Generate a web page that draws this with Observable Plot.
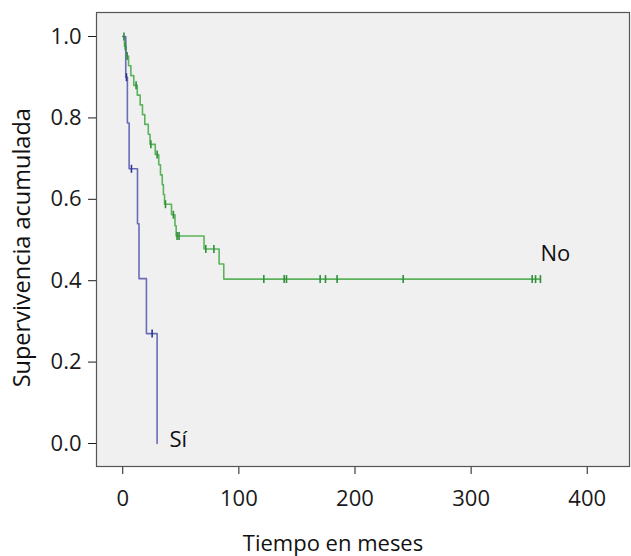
<!DOCTYPE html>
<html>
<head>
<meta charset="utf-8">
<script src="https://cdn.jsdelivr.net/npm/d3@7"></script>
<script src="https://cdn.jsdelivr.net/npm/@observablehq/plot@0.6"></script>
<style>
  html, body { margin: 0; padding: 0; background: #ffffff; }
  #chart { width: 631px; height: 556px; }
</style>
</head>
<body>
<div id="chart"></div>
<script>
// Series "Sí" (blue): step times and survival after each step
const siTimes = [0, 2.6, 4, 5.5, 12.7, 14, 20.4, 29.6];
const siSurv  = [1.0, 0.9, 0.7875, 0.675, 0.54, 0.405, 0.27, 0.0];
const siCensorTimes = [3.2, 7.5, 25.3];
const siCensorSurv  = [0.9, 0.675, 0.27];

// Series "No" (green)
const noTimes = [0, 1.5, 3, 5, 7, 9.5, 12.5, 15, 17, 19, 22, 23.5, 28, 31, 32.5, 34, 35, 36, 42, 45, 46, 70, 83, 87, 359.7];
const noSurv  = [1.0, 0.976, 0.952, 0.928, 0.904, 0.88, 0.856, 0.832, 0.808, 0.784, 0.76, 0.735, 0.71, 0.685, 0.66, 0.636, 0.612, 0.588, 0.562, 0.535, 0.51, 0.478, 0.441, 0.404, 0.404];
const noCensorTimes = [1, 2.2, 3.8, 11.5, 24.2, 29.6, 36.8, 43.6, 46.8, 48.5, 71.5, 78.5, 121.5, 139, 141, 170, 174.6, 184.6, 241.5, 352.6, 355.5, 359.7];
const noCensorSurv  = [1.0, 0.976, 0.952, 0.88, 0.735, 0.71, 0.588, 0.562, 0.51, 0.51, 0.478, 0.478, 0.404, 0.404, 0.404, 0.404, 0.404, 0.404, 0.404, 0.404, 0.404, 0.404];

const xTicks = [0, 100, 200, 300, 400];
const yTicks = [0, 0.2, 0.4, 0.6, 0.8, 1.0];
const xTitle = "Tiempo en meses";
const yTitle = "Supervivencia acumulada";
const groupLabels = ["Sí", "No"];
const labelTimes = [40.2, 359.8];
const labelSurv = [-0.008, 0.449];

const siLine = siTimes.map((t, i) => ({t, s: siSurv[i]}));
const noLine = noTimes.map((t, i) => ({t, s: noSurv[i]}));
const siCens = siCensorTimes.map((t, i) => ({t, s: siCensorSurv[i]}));
const noCens = noCensorTimes.map((t, i) => ({t, s: noCensorSurv[i]}));
const labels = groupLabels.map((g, i) => ({g, t: labelTimes[i], s: labelSurv[i]}));

const vbar = {
  draw(context, size) {
    const r = Math.sqrt(size / Math.PI);
    context.moveTo(0, -r);
    context.lineTo(0, r);
  }
};

const chart = Plot.plot({
  width: 631,
  height: 556,
  marginLeft: 96,
  marginRight: 2,
  marginTop: 12,
  marginBottom: 90,
  style: {fontFamily: "'Open Sans', sans-serif", fontSize: "22px", color: "#1a1a1a", background: "#ffffff"},
  x: {domain: [-22.6, 436.4], label: null},
  y: {domain: [-0.0565, 1.059], label: null},
  marks: [
    Plot.frame({fill: "#f0f0f0", stroke: null}),
    Plot.axisX({ticks: xTicks, tickSize: 8, tickPadding: 16, label: null, fontSize: 22}),
    Plot.axisY({ticks: yTicks, tickSize: 8, tickPadding: 7, tickFormat: d3.format(".1f"), label: null, fontSize: 22}),
    Plot.line(noLine, {x: "t", y: "s", curve: "step-after", stroke: "#5cb35c", strokeWidth: 1.6}),
    Plot.line(siLine, {x: "t", y: "s", curve: "step-after", stroke: "#6a6cb8", strokeWidth: 1.6}),
    Plot.dot(noCens, {x: "t", y: "s", symbol: vbar, r: 4, stroke: "#2f8f3a", strokeWidth: 1.6}),
    Plot.dot(siCens, {x: "t", y: "s", symbol: vbar, r: 4, stroke: "#2c3590", strokeWidth: 1.6}),
    Plot.text(labels, {x: "t", y: "s", text: "g", textAnchor: "start", lineAnchor: "bottom", fontSize: 22, fill: "#111"}),
    Plot.text([xTitle], {frameAnchor: "bottom", text: d => d, dx: -30, dy: 77, lineAnchor: "middle", fontSize: 22, fill: "#111"}),
    Plot.text([yTitle], {x: -86, y: 0.481, text: d => d, rotate: -90, lineAnchor: "middle", fontSize: 23.5, fill: "#111", clip: false}),
    Plot.frame({stroke: "#555", strokeWidth: 1.2})
  ]
});

document.getElementById("chart").appendChild(chart);
</script>
</body>
</html>
